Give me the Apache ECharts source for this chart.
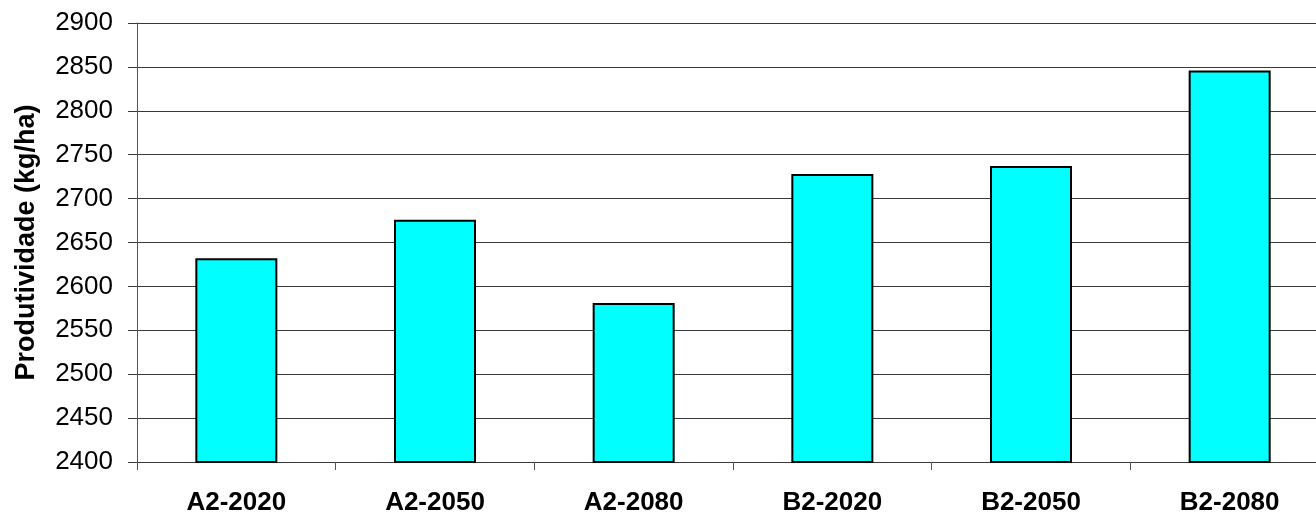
<!DOCTYPE html>
<html>
<head>
<meta charset="utf-8">
<title>Produtividade</title>
<script src="https://cdn.jsdelivr.net/npm/echarts@6/dist/echarts.min.js"></script>
<style>
  html, body { margin: 0; padding: 0; background: #fff; overflow: hidden; width: 1316px; height: 516px; }
  /* the plot runs a little past the right edge of the page */
  #chart { width: 1329px; height: 516px; }
</style>
</head>
<body>
<div id="chart"></div>
<script>
// Scenario / year categories
const categories = ['A2-2020', 'A2-2050', 'A2-2080', 'B2-2020', 'B2-2050', 'B2-2080'];
// Yield per scenario (kg/ha)
const produtividade = [2632, 2676, 2581, 2728, 2737, 2846];
// Value axis range
const yMin = 2400;
const yMax = 2900;
const yStep = 50;

const FONT = '"Liberation Sans", Arial, sans-serif';
const LINE = '#3a3a3a';

const chart = echarts.init(document.getElementById('chart'), null, { renderer: 'canvas' });
chart.setOption({
  animation: false,
  backgroundColor: '#ffffff',
  grid: { left: 137, top: 23, right: 0, bottom: 54, containLabel: false },
  xAxis: {
    type: 'category',
    data: categories,
    boundaryGap: true,
    axisLine: { show: true, lineStyle: { color: LINE, width: 1 } },
    axisTick: { show: true, length: 8, alignWithLabel: false, lineStyle: { color: '#555', width: 1 } },
    axisLabel: { color: '#000', fontFamily: FONT, fontSize: 26, fontWeight: 'bold', margin: 28, interval: 0 },
    splitLine: { show: false }
  },
  yAxis: {
    type: 'value',
    min: yMin,
    max: yMax,
    interval: yStep,
    name: 'Produtividade (kg/ha)',
    nameLocation: 'middle',
    nameGap: 97,
    nameRotate: 90,
    nameTextStyle: { color: '#000', fontFamily: FONT, fontSize: 27, fontWeight: 'bold' },
    axisLine: { show: true, lineStyle: { color: '#555', width: 1 } },
    axisTick: { show: true, length: 9, inside: false, lineStyle: { color: LINE, width: 1 } },
    axisLabel: { color: '#000', fontFamily: FONT, fontSize: 26, margin: 24, formatter: (v) => String(v) },
    splitLine: { show: true, lineStyle: { color: LINE, width: 1 } }
  },
  series: [{
    type: 'bar',
    data: produtividade,
    barWidth: 82,
    itemStyle: { color: '#00ffff', borderColor: '#000', borderWidth: 2 },
    silent: true
  }]
});
</script>
</body>
</html>
